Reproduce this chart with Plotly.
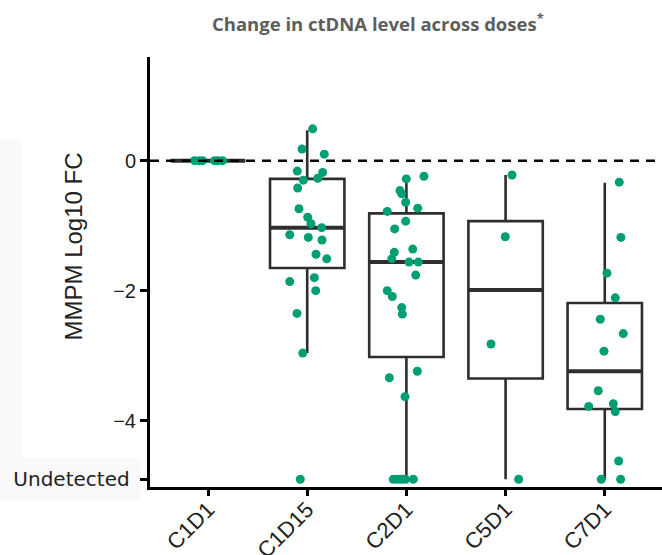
import plotly.graph_objects as go

# ---------------- data ----------------
categories = ["C1D1", "C1D15", "C2D1", "C5D1", "C7D1"]
UNDETECTED = -4.9

# individual patient values per visit (Log10 fold change)
c1d1_values = [0, 0, 0, 0, 0, 0]
c1d1_jitter = [-0.136, -0.091, -0.055, 0.066, 0.10, 0.146]

c1d15_values = [0.49, 0.18, 0.10, -0.16, -0.30, -0.18, -0.27, -0.42, -0.74, -0.87,
                -0.97, -1.03, -1.14, -1.18, -1.22, -1.44, -1.51, -1.86, -1.80, -2.00,
                -2.35, -2.96, UNDETECTED]
c1d15_jitter = [0.055, -0.052, 0.172, -0.10, -0.039, 0.156, 0.106, -0.096, -0.083, 0.005,
                0.038, 0.146, -0.176, 0.011, 0.149, 0.089, 0.197, -0.176, 0.072, 0.086,
                -0.103, -0.045, -0.07]

c2d1_values = [-0.28, -0.24, -0.46, -0.51, -0.64, -0.73, -0.78, -0.93, -1.05, -1.41,
               -1.51, -1.36, -1.56, -1.56, -1.76, -2.00, -2.09, -2.26, -2.36, -3.34,
               -3.24, -3.63, UNDETECTED, UNDETECTED, UNDETECTED, UNDETECTED, UNDETECTED]
c2d1_jitter = [-0.001, 0.177, -0.065, -0.047, -0.007, 0.114, -0.193, -0.007, -0.118, -0.122,
               -0.148, 0.064, 0.026, 0.12, 0.094, -0.193, -0.142, -0.047, -0.041, -0.172,
               0.11, -0.014, -0.132, -0.09, -0.049, -0.009, 0.07]

c5d1_values = [-0.22, -1.17, -2.82, UNDETECTED]
c5d1_jitter = [0.065, -0.003, -0.147, 0.132]

c7d1_values = [-0.33, -1.18, -1.73, -2.11, -2.44, -2.66, -2.93, -3.54, -3.78, -3.74,
               -3.86, -4.62, UNDETECTED, UNDETECTED]
c7d1_jitter = [0.146, 0.163, 0.022, 0.106, -0.045, 0.186, -0.008, -0.066, -0.162, 0.086,
               0.106, 0.14, -0.035, 0.16]

# box statistics per visit
box_q1 = [0, -1.65, -3.02, -3.35, -3.82]
box_median = [0, -1.03, -1.56, -1.99, -3.24]
box_q3 = [0, -0.28, -0.81, -0.93, -2.19]
box_lowerfence = [0, -2.96, UNDETECTED, UNDETECTED, UNDETECTED]
box_upperfence = [0, 0.47, -0.28, -0.22, -0.34]

ytick_vals = [0, -2, -4, UNDETECTED]
ytick_text = ["0", "\u22122", "\u22124",
              "<span style='font-family:DejaVu Sans;font-size:20px;'>Undetected&nbsp;</span>"]

title_text = "Change in ctDNA level across doses<sup>*</sup>"
ytitle_text = "MMPM Log10 FC"

# ---------------- figure ----------------
BOX_W = 0.75
LINE_COL = "#2e2e2e"
PT_COL = "#009E73"
positions = list(range(len(categories)))

fig = go.Figure()

# faint background patches of the original slide
for (x0, y0, x1, y1) in [(0, 140, 22, 458), (0, 458, 140, 500)]:
    fig.add_shape(type="rect", xref="paper", yref="paper",
                  x0=(x0 - 150) / 512, x1=(x1 - 150) / 512,
                  y0=(487 - y1) / 430, y1=(487 - y0) / 430,
                  fillcolor="#f9f9f9", line=dict(width=0), layer="below")

fig.add_trace(go.Box(
    x=positions, q1=box_q1, median=box_median, q3=box_q3,
    lowerfence=box_lowerfence, upperfence=box_upperfence,
    width=BOX_W, boxpoints=False, whiskerwidth=0,
    line=dict(color=LINE_COL, width=2.6), fillcolor="rgba(0,0,0,0)",
    hoverinfo="skip", showlegend=False,
))

# thicker median bars
mx, my = [], []
for p, m in zip(positions, box_median):
    mx += [p - BOX_W / 2, p + BOX_W / 2, None]
    my += [m, m, None]
fig.add_trace(go.Scatter(x=mx, y=my, mode="lines",
                         line=dict(color=LINE_COL, width=4),
                         hoverinfo="skip", showlegend=False))

all_vals = [c1d1_values, c1d15_values, c2d1_values, c5d1_values, c7d1_values]
all_jit = [c1d1_jitter, c1d15_jitter, c2d1_jitter, c5d1_jitter, c7d1_jitter]
for p, vals, jit in zip(positions, all_vals, all_jit):
    fig.add_trace(go.Scatter(
        x=[p + j for j in jit], y=vals, mode="markers",
        marker=dict(color=PT_COL, size=9, line=dict(width=0)),
        showlegend=False,
    ))

# dashed reference line at 0
fig.add_shape(type="line", xref="paper", x0=0, x1=1, yref="y", y0=0, y1=0,
              line=dict(color="black", width=2.6, dash="9px,7px"), layer="above")

fig.add_annotation(text=title_text, xref="paper", yref="paper",
                   x=(210 - 150) / 512, y=(487 - 22) / 430,
                   xanchor="left", yanchor="middle", showarrow=False,
                   font=dict(family="Open Sans", size=18.5, color="#5e5e5e", weight=700))
fig.add_annotation(text=ytitle_text, xref="paper", yref="paper",
                   x=(72.5 - 150) / 512, y=(487 - 247) / 430,
                   xanchor="center", yanchor="middle", textangle=-90, showarrow=False,
                   font=dict(family="Liberation Sans", size=24, color="#222222"))

fig.update_layout(
    width=662, height=555,
    margin=dict(l=150, r=0, t=57, b=68, pad=0, autoexpand=False),
    paper_bgcolor="white", plot_bgcolor="white",
    font=dict(family="Liberation Sans", color="#222222"),
    showlegend=False,
    xaxis=dict(range=[-0.585, 4.577], tickvals=positions, ticktext=categories,
               tickangle=-45, ticks="outside", ticklen=6, tickwidth=2.5, tickcolor="black",
               showline=True, linewidth=3, linecolor="black", automargin=False,
               showgrid=False, zeroline=False, ticklabelstandoff=-8,
               tickfont=dict(family="Liberation Sans", size=22, color="#222222")),
    yaxis=dict(range=[-5.02, 1.595], tickvals=ytick_vals, ticktext=ytick_text,
               ticks="outside", ticklen=7, tickwidth=2.5, tickcolor="black",
               showline=True, linewidth=3, linecolor="black", automargin=False,
               showgrid=False, zeroline=False,
               tickfont=dict(family="Liberation Sans", size=20, color="#222222")),
)

fig.write_html("out.html", config={"displayModeBar": False},
               post_script="document.body.style.margin='0';document.body.style.overflow='hidden';")
